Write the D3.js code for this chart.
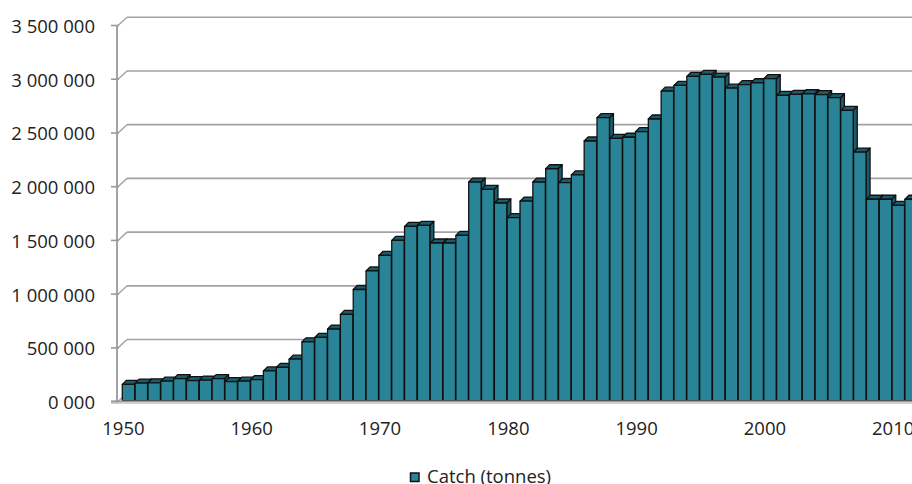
<!DOCTYPE html>
<html>
<head>
<meta charset="utf-8">
<script src="https://cdn.jsdelivr.net/npm/d3@7/dist/d3.min.js"></script>
<style>
  html, body { margin: 0; padding: 0; background: #fff; }
  svg { display: block; }
  text { font-family: "Open Sans", "Noto Sans", sans-serif; fill: #222; }
</style>
</head>
<body>
<svg id="chart" width="912" height="484"></svg>
<script>
// ---- data ----
const years = [1950,1951,1952,1953,1954,1955,1956,1957,1958,1959,
               1960,1961,1962,1963,1964,1965,1966,1967,1968,1969,
               1970,1971,1972,1973,1974,1975,1976,1977,1978,1979,
               1980,1981,1982,1983,1984,1985,1986,1987,1988,1989,
               1990,1991,1992,1993,1994,1995,1996,1997,1998,1999,
               2000,2001,2002,2003,2004,2005,2006,2007,2008,2009,
               2010,2011];
const catch_tonnes = [160000,172000,175000,190000,213000,195000,200000,214000,185000,190000,
                      205000,285000,318000,395000,556000,597000,675000,812000,1043000,1216000,
                      1360000,1500000,1630000,1640000,1476000,1476000,1547000,2043000,1975000,1848000,
                      1712000,1866000,2043000,2167000,2037000,2110000,2425000,2642000,2450000,2460000,
                      2512000,2630000,2889000,2942000,3026000,3045000,3020000,2917000,2949000,2967000,
                      3005000,2849000,2859000,2865000,2856000,2828000,2710000,2322000,1883000,1883000,
                      1827000,1883000];
const yTicks = [0,500000,1000000,1500000,2000000,2500000,3000000,3500000];
const yTickLabels = ["0 000","500 000","1 000 000","1 500 000","2 000 000","2 500 000","3 000 000","3 500 000"];
const xTickYears = [1950,1960,1970,1980,1990,2000,2010];
const seriesName = "Catch (tonnes)";

// ---- layout ----
const svg = d3.select("#chart");
const W = 912;
const axisX = 117;
const step = 12.83;
const depthDX = 10, depthDY = -8.3;     // back wall offset
const barDX = 4, barDY = -4;             // bar depth
const frontColor = "#2a8497", darkColor = "#1b5c6c";

const x = d3.scaleBand().domain(years).range([axisX, axisX + step * years.length]).paddingInner(0).paddingOuter(0);
const y = d3.scaleLinear().domain([0, 3500000]).range([401.6, 25.5]);

// back-wall gridlines + diagonal connectors
const grid = svg.append("g");
yTicks.forEach(t => {
  const yf = y(t);
  grid.append("line")
    .attr("x1", axisX + depthDX).attr("x2", W)
    .attr("y1", yf + depthDY).attr("y2", yf + depthDY)
    .attr("stroke", "#a3a3a3").attr("stroke-width", 1.6);
  grid.append("line")
    .attr("x1", axisX + 1).attr("y1", yf)
    .attr("x2", axisX + depthDX).attr("y2", yf + depthDY)
    .attr("stroke", "#a3a3a3").attr("stroke-width", 1.4);
  grid.append("line")
    .attr("x1", axisX - 6).attr("x2", axisX + 2)
    .attr("y1", yf).attr("y2", yf)
    .attr("stroke", "#999").attr("stroke-width", 1.6);
});

// vertical axis line
svg.append("line")
  .attr("x1", axisX).attr("x2", axisX)
  .attr("y1", y(3500000)).attr("y2", y(0) + 1)
  .attr("stroke", "#999").attr("stroke-width", 1.8);

// y tick labels
svg.append("g").selectAll("text").data(yTicks).join("text")
  .attr("x", 95).attr("y", d => y(d) + 7.5)
  .attr("text-anchor", "end")
  .attr("font-size", 18.5)
  .text((d, i) => yTickLabels[i]);

// bars
const barW = step * 0.97;
const bottom = y(0) - 1;
const bars = svg.append("g");
years.forEach((yr, i) => {
  const x0 = x(yr) + 5.3, x1 = x0 + barW;
  const yt = y(catch_tonnes[i]);
  const g = bars.append("g").attr("stroke", "#111").attr("stroke-width", 1.3).attr("stroke-linejoin", "round");
  // side
  g.append("path")
    .attr("d", `M${x1},${yt}L${x1 + barDX},${yt + barDY}L${x1 + barDX},${bottom + barDY}L${x1},${bottom}Z`)
    .attr("fill", darkColor);
  // top
  g.append("path")
    .attr("d", `M${x0},${yt}L${x0 + barDX},${yt + barDY}L${x1 + barDX},${yt + barDY}L${x1},${yt}Z`)
    .attr("fill", darkColor);
  // front
  g.append("rect")
    .attr("x", x0).attr("y", yt)
    .attr("width", barW).attr("height", bottom - yt)
    .attr("fill", frontColor);
});

// floor lines
svg.append("line")
  .attr("x1", axisX - 6).attr("x2", W)
  .attr("y1", y(0)).attr("y2", y(0))
  .attr("stroke", "#999").attr("stroke-width", 2);
svg.append("line")
  .attr("x1", axisX - 6).attr("x2", W)
  .attr("y1", y(0) + 1.8).attr("y2", y(0) + 1.8)
  .attr("stroke", "#d0d0d0").attr("stroke-width", 1.2);

// x tick labels
svg.append("g").selectAll("text").data(xTickYears).join("text")
  .attr("x", d => x(d) + x.bandwidth() / 2)
  .attr("y", 435)
  .attr("text-anchor", "middle")
  .attr("font-size", 18.5)
  .text(d => d);

// legend
const lg = svg.append("g");
lg.append("rect").attr("x", 410.5).attr("y", 473).attr("width", 8.5).attr("height", 8.5)
  .attr("fill", frontColor).attr("stroke", "#111").attr("stroke-width", 1.5);
lg.append("text").attr("x", 427).attr("y", 483).attr("font-size", 18.5).text(seriesName);
</script>
</body>
</html>
